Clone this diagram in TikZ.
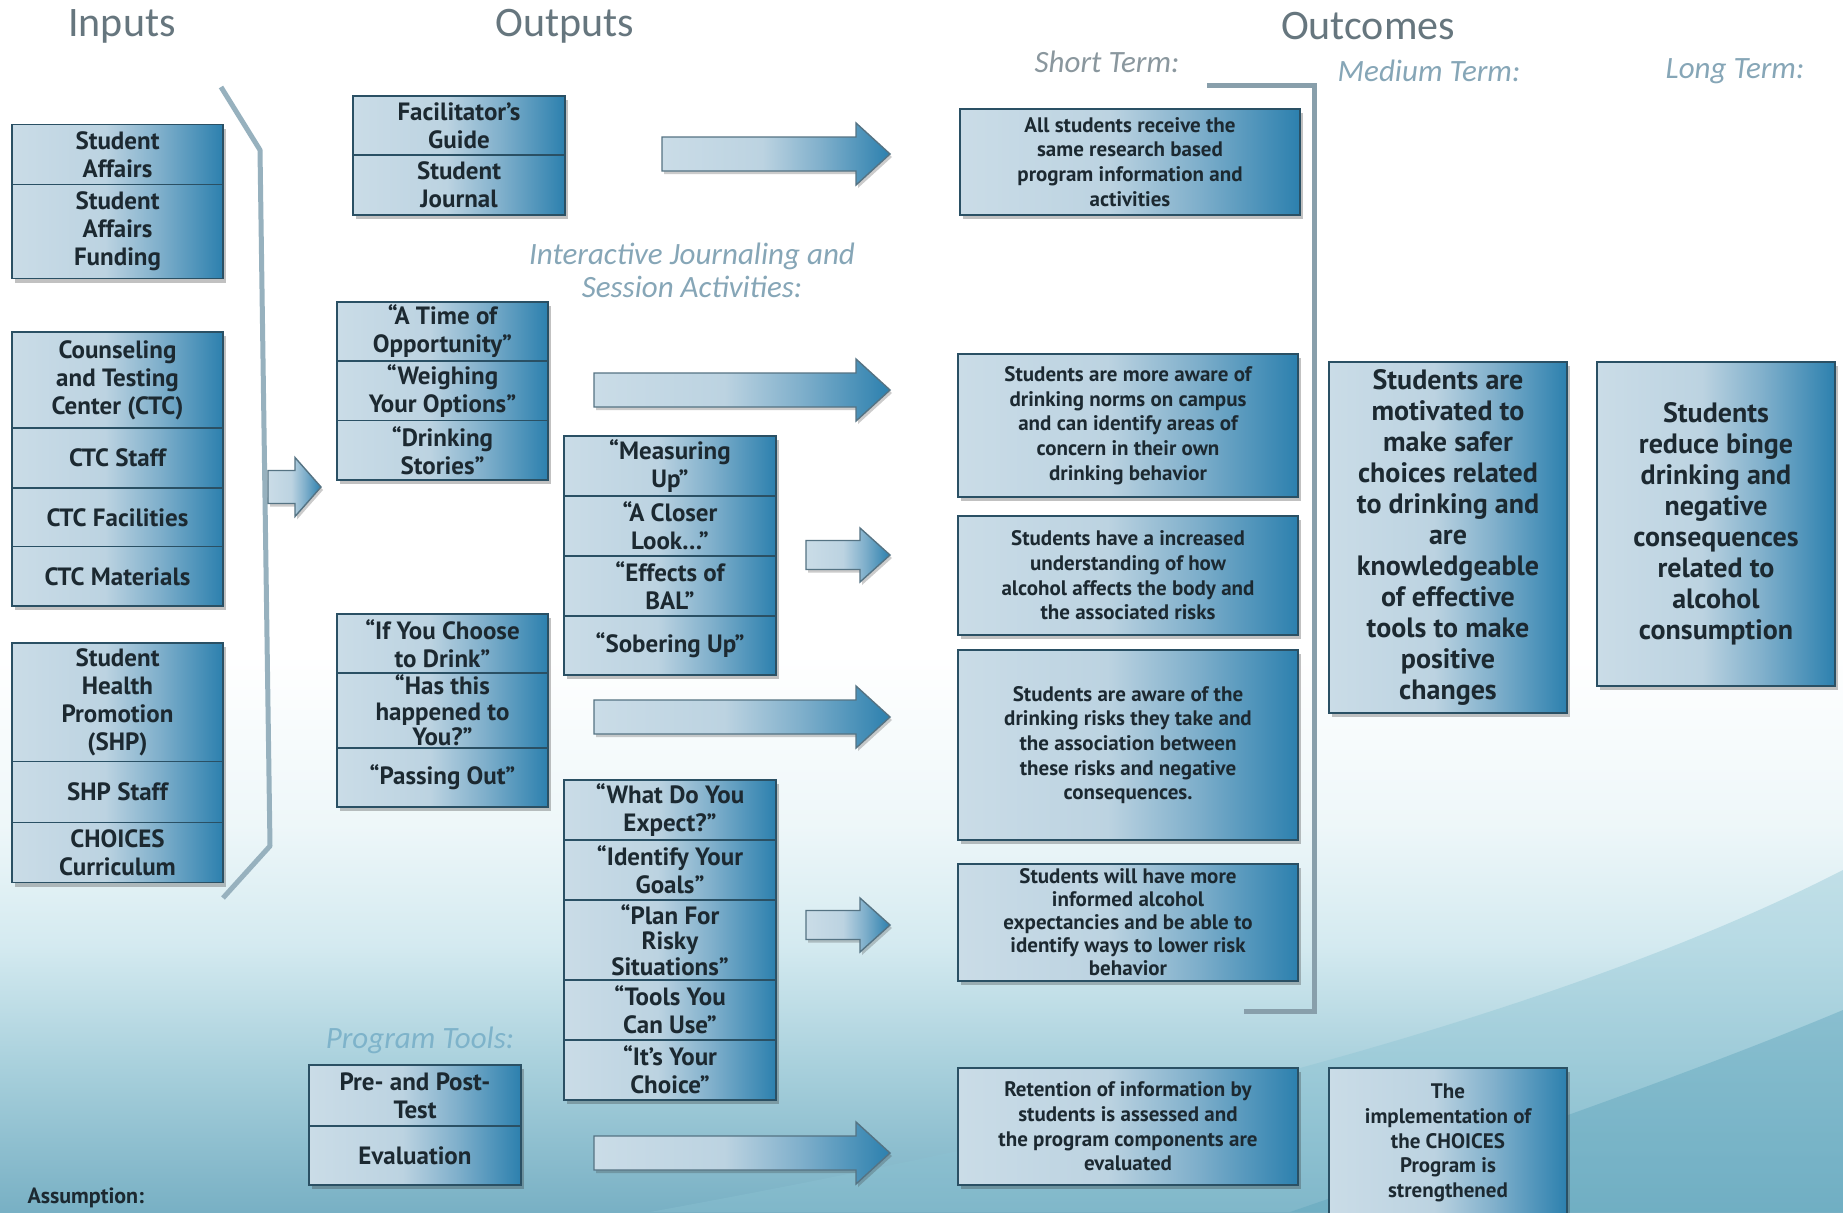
\documentclass[tikz,border=0pt]{standalone}
\usepackage{fontspec}
\newfontfamily\bx{PT Sans}
\newfontfamily\ttl{Carlito}
\usetikzlibrary{shadows}
\definecolor{boxL}{HTML}{CADCE7}
\definecolor{boxL2}{HTML}{BCD3E1}
\definecolor{boxM}{HTML}{7FAFCB}
\definecolor{boxR}{HTML}{2C80AE}
\definecolor{edge}{HTML}{2A5064}
\definecolor{txt}{HTML}{1C2931}
\definecolor{ttlc}{HTML}{66767E}
\definecolor{subg}{HTML}{8A979E}
\definecolor{subb}{HTML}{86A6B7}
\definecolor{subl}{HTML}{7EB3CA}
\definecolor{brk}{HTML}{97B1BE}
\definecolor{bg1}{HTML}{EEF7F9}
\definecolor{bg2}{HTML}{D4EAF0}
\definecolor{bg3}{HTML}{A8D0DC}
\definecolor{bg4}{HTML}{78B0C4}
\definecolor{sw1}{HTML}{8CC3D3}
\definecolor{sw2}{HTML}{5AA2BA}
\pgfdeclarehorizontalshading{boxshade}{100bp}{color(0bp)=(boxL); color(25bp)=(boxL); color(47bp)=(boxL2); color(60bp)=(boxM); color(75bp)=(boxR); color(100bp)=(boxR)}
\pgfdeclareverticalshading{bgshade}{100bp}{color(0bp)=(bg4); color(25bp)=(bg4); color(31bp)=(bg3); color(36bp)=(bg2); color(41bp)=(bg1); color(48bp)=(white); color(100bp)=(white)}
\newcommand\grpshadow[4]{\path[fill=edge, drop shadow={shadow xshift=3pt, shadow yshift=-4pt, opacity=.3, fill=black!80}] (#1,#2) rectangle (#3,#4);}
\newcommand\blockarrow[6]{\path[arr, drop shadow={shadow xshift=2pt, shadow yshift=-3pt, opacity=.25, fill=black!80}] (#1,#3-#4) -- (#2-#6,#3-#4) -- (#2-#6,#3-#5) -- (#2,#3) -- (#2-#6,#3+#5) -- (#2-#6,#3+#4) -- (#1,#3+#4) -- cycle;}
\tikzset{
  cellbase/.style={draw=edge, line width=1.6pt, shade, shading=boxshade, align=center, text=txt, inner sep=2pt, outer sep=0pt},
  bigtxt/.style={font=\bx\bfseries\fontsize{25}{28}\selectfont},
  tighttxt/.style={font=\bx\bfseries\fontsize{25}{25.5}\selectfont},
  smalltxt/.style={font=\bx\bfseries\fontsize{21}{24.7}\selectfont},
  medtxt/.style={font=\bx\bfseries\fontsize{28}{31}\selectfont},
  incell/.style={cellbase, bigtxt, minimum width=211pt},
  outcell/.style={cellbase, bigtxt, minimum width=212pt},
  sbox/.style={cellbase, smalltxt, minimum width=340pt, drop shadow={shadow xshift=3pt, shadow yshift=-4pt, opacity=.3, fill=black!80}},
  mbox/.style={cellbase, medtxt, minimum width=238pt, drop shadow={shadow xshift=3pt, shadow yshift=-4pt, opacity=.3, fill=black!80}},
  arr/.style={draw=edge!80, line width=1.4pt, shade, shading=boxshade},
  title/.style={font=\ttl\fontsize{42}{48}\selectfont, text=ttlc},
  subt/.style={font=\ttl\itshape\fontsize{31}{33}\selectfont, align=center},
}
\begin{document}
\begin{tikzpicture}[x=1pt, y=-1pt]
\useasboundingbox (0,0) rectangle (1843,1212);
% background
\shade[shading=bgshade] (0,0) rectangle (1843,1212);
\fill[sw1, opacity=.4] (650,1212) .. controls (1100,1130) and (1550,1020) .. (1843,870) -- (1843,1212) -- cycle;
\fill[sw2, opacity=.4] (1290,1212) .. controls (1500,1140) and (1700,1070) .. (1843,1010) -- (1843,1212) -- cycle;

% titles
\node[title] (tin) at (122,26) {Inputs};
\node[title] (tout) at (565,26) {Outputs};
\node[title] (toc) at (1368,26) {Outcomes};
\node[subt, text=subg] (tst) at (1107,62) {Short Term:};
\node[subt, text=subb] (tmt) at (1429,71) {Medium Term:};
\node[subt, text=subb] (tlt) at (1735,71) {Long Term:};
\node[subt, text=subb] (tij) at (692,270) {Interactive Journaling and\\Session Activities:};
\node[subt, text=subl] (tpt) at (420,1040) {Program Tools:};
\node[anchor=base west, font=\bx\bfseries\fontsize{22}{26}\selectfont, text=txt] (asm) at (24,1203) {Assumption:};

% brackets
\draw[brk, line width=5pt, line join=round] (221,87) -- (260,150) -- (270,846) -- (223,898);
\draw[brk!90!black, line width=5pt] (1207,86) -- (1314,86) -- (1314,1011) -- (1244,1011);

% inputs
\grpshadow{12}{124.6}{223}{278.6}
\node[incell, minimum height=60pt] (sa) at (117.5,154.6) {Student\\Affairs};
\node[incell, minimum height=94pt] (saf) at (117.5,231.6) {Student\\Affairs\\Funding};
\grpshadow{12}{332}{223}{606}
\node[incell, minimum height=96pt] (ctc) at (117.5,380) {Counseling\\and Testing\\Center (CTC)};
\node[incell, minimum height=60pt] (ctcs) at (117.5,458) {CTC Staff};
\node[incell, minimum height=58.5pt] (ctcf) at (117.5,517.25) {CTC Facilities};
\node[incell, minimum height=59.5pt] (ctcm) at (117.5,576.25) {CTC Materials};
\grpshadow{12}{643}{223}{882.5}
\node[incell, minimum height=118.5pt] (shp) at (117.5,702.25) {Student\\Health\\Promotion\\(SHP)};
\node[incell, minimum height=61pt] (shps) at (117.5,792) {SHP Staff};
\node[incell, minimum height=60pt] (cur) at (117.5,852.5) {CHOICES\\Curriculum};

\blockarrow{268}{321}{487}{16.5}{29.5}{26}

% outputs
\grpshadow{353}{96}{565}{215}
\node[outcell, minimum height=59pt] (fg) at (459,125.5) {Facilitator’s\\Guide};
\node[outcell, minimum height=60pt] (sj) at (459,185) {Student\\Journal};
\grpshadow{337}{302}{548}{480}
\node[outcell, minimum width=211pt, minimum height=59pt] (ato) at (442.5,331.5) {“A Time of\\Opportunity”};
\node[outcell, minimum width=211pt, minimum height=59.5pt] (wyo) at (442.5,390.75) {“Weighing\\Your Options”};
\node[outcell, minimum width=211pt, minimum height=59.5pt] (ds) at (442.5,450.25) {“Drinking\\Stories”};
\grpshadow{337}{614}{548}{807}
\node[outcell, minimum width=211pt, minimum height=59pt] (iyc) at (442.5,643.5) {“If You Choose\\to Drink”};
\node[outcell, tighttxt, minimum width=211pt, minimum height=75pt] (hth) at (442.5,710.5) {“Has this\\happened to\\You?”};
\node[outcell, minimum width=211pt, minimum height=59pt] (po) at (442.5,777.5) {“Passing Out”};
\grpshadow{564}{436}{776}{675}
\node[outcell, minimum height=60pt] (mu) at (670,466) {“Measuring\\Up”};
\node[outcell, minimum height=60pt] (acl) at (670,526) {“A Closer\\Look…”};
\node[outcell, minimum height=60pt] (eob) at (670,586) {“Effects of\\BAL”};
\node[outcell, minimum height=59pt] (su) at (670,645.5) {“Sobering Up”};
\grpshadow{564}{780}{776}{1100}
\node[outcell, minimum height=60pt] (wdy) at (670,810) {“What Do You\\Expect?”};
\node[outcell, minimum height=60pt] (iyg) at (670,870) {“Identify Your\\Goals”};
\node[outcell, tighttxt, minimum height=80pt] (pfr) at (670,940) {“Plan For\\Risky\\Situations”};
\node[outcell, minimum height=60pt] (tyc) at (670,1010) {“Tools You\\Can Use”};
\node[outcell, minimum height=60pt] (iyc2) at (670,1070) {“It’s Your\\Choice”};
\grpshadow{309}{1065}{521}{1185}
\node[outcell, minimum height=61pt] (ppt) at (415,1095.5) {Pre- and Post-\\Test};
\node[outcell, minimum height=59pt] (ev) at (415,1155.5) {Evaluation};

% big arrows
\blockarrow{662}{890}{154}{17}{31}{34}
\blockarrow{594}{890}{390}{17}{31}{34}
\blockarrow{806}{890}{555}{14.5}{27}{30}
\blockarrow{594}{890}{717}{17}{31}{34}
\blockarrow{806}{890}{925}{14.5}{27}{30}
\blockarrow{594}{890}{1153}{17}{31}{34}

% outcomes
\node[sbox, minimum height=106pt] (o1) at (1130,162) {All students receive the\\same research based\\program information and\\activities};
\node[sbox, minimum height=143pt] (o2) at (1128,425.5) {Students are more aware of\\drinking norms on campus\\and can identify areas of\\concern in their own\\drinking behavior};
\node[sbox, minimum height=119pt] (o3) at (1128,575.5) {Students have a increased\\understanding of how\\alcohol affects the body and\\the associated risks};
\node[sbox, minimum height=190pt] (o4) at (1128,745) {Students are aware of the\\drinking risks they take and\\the association between\\these risks and negative\\consequences.};
\node[sbox, font=\bx\bfseries\fontsize{21}{23}\selectfont, minimum height=117pt] (o5) at (1128,922.5) {Students will have more\\informed alcohol\\expectancies and be able to\\identify ways to lower risk\\behavior};
\node[sbox, minimum height=117pt] (o6) at (1128,1126.5) {Retention of information by\\students is assessed and\\the program components are\\evaluated};
\node[mbox, minimum height=351pt] (med) at (1448,537.5) {Students are\\motivated to\\make safer\\choices related\\to drinking and\\are\\knowledgeable\\of effective\\tools to make\\positive\\changes};
\node[mbox, minimum height=324pt] (lng) at (1716,524) {Students\\reduce binge\\drinking and\\negative\\consequences\\related to\\alcohol\\consumption};
\node[mbox, smalltxt, minimum height=150pt] (med2) at (1448,1143) {The\\implementation of\\the CHOICES\\Program is\\strengthened};
\end{tikzpicture}
\end{document}
